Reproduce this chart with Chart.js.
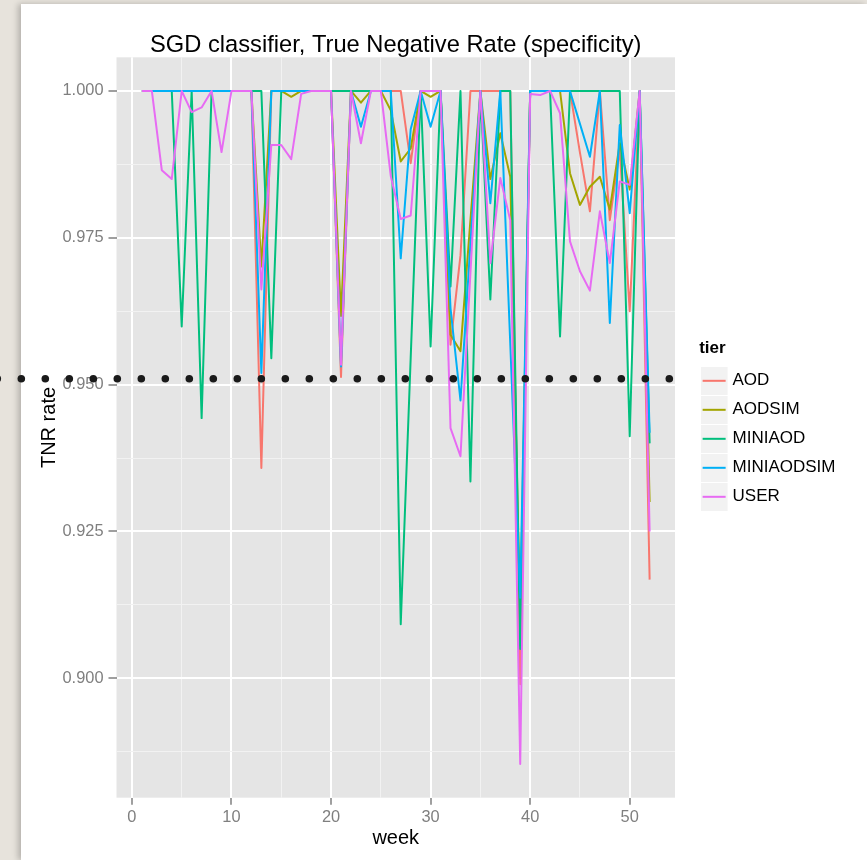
<!DOCTYPE html>
<html>
<head>
<meta charset="utf-8">
<script src="https://cdn.jsdelivr.net/npm/chart.js@4/dist/chart.umd.min.js"></script>
<style>
html,body{margin:0;padding:0;}
body{width:867px;height:860px;overflow:hidden;position:relative;background:#e7e3dc;}
#card{position:absolute;left:21px;top:4px;width:846px;height:856px;background:#ffffff;box-shadow:-3px 0 6px rgba(0,0,0,0.22);}
#c{position:absolute;left:0;top:0;}
</style>
</head>
<body>
<div id="card"></div>
<canvas id="c" width="867" height="860"></canvas>
<script>
// ---------- data ----------
const WEEKS = [1,2,3,4,5,6,7,8,9,10,11,12,13,14,15,16,17,18,19,20,21,22,23,24,25,26,
               27,28,29,30,31,32,33,34,35,36,37,38,39,40,41,42,43,44,45,46,47,48,49,50,51,52];
const TIERS = ['AOD','AODSIM','MINIAOD','MINIAODSIM','USER'];

const AOD = [1,1,1,1,1,1,1,1,1,1,1,1, 0.9358, 1,1,1,1,1,1,1, 0.9513, 1,1,1,1,1,1, 0.9877,
             1,1,1, 0.9568, 0.972, 1,1,1,1,1, 0.899, 1,1,1,1,1, 0.9895, 0.9795, 1, 0.978, 0.990, 0.9625, 1, 0.9168];
const AODSIM = [1,1,1,1,1,1,1,1,1,1,1,1, 0.9701, 1,1,0.999,1,1,1,1, 0.9617, 1, 0.998, 1,1, 0.9967, 0.988, 0.9902,
                1, 0.999, 1, 0.9585, 0.9557, 0.978, 1, 0.985, 0.9928, 0.9854, 0.91, 1,1,1,1,
                0.986, 0.9806, 0.9837, 0.9854, 0.9798, 0.9911, 0.9832, 1, 0.93];
const MINIAOD = [1,1,1,1, 0.9599, 1, 0.9443, 1,1,1,1,1,1, 0.9545, 1,1,1,1,1,1,1,1,1,1,1,1,
                 0.9092, 0.9546, 1, 0.9565, 1, 0.9667, 1, 0.9335, 1, 0.9645, 1, 1, 0.905,
                 1,1,1, 0.9582, 1,1,1,1,1,1, 0.9412, 1, 0.94];
const MINIAODSIM = [1,1,1,1,1,1,1,1,1,1,1,1, 0.952, 1,1,1,1,1,1,1, 0.9531, 1, 0.9939, 1,1,1, 0.9715, 0.9935,
                    1, 0.9939, 1, 0.963, 0.9473, 0.974, 1, 0.9809, 1, 0.957, 0.9137, 1,1,1,1,1,
                    0.9944, 0.9888, 1, 0.9605, 0.9942, 0.9792, 1, 0.9418];
const USER = [1, 1, 0.9865, 0.985, 1, 0.9964, 0.9972, 1, 0.9896, 1, 1, 1,
              0.9662, 0.9908, 0.9908, 0.9884, 0.9995, 1, 1, 1,
              0.9534, 1, 0.9911, 1, 1, 0.9855, 0.9782, 0.9788, 1, 1, 1,
              0.9426, 0.9378, 0.969, 1, 0.9707, 0.9852, 0.978, 0.8854, 0.9995, 0.9993, 1,
              0.9962, 0.9744, 0.9693, 0.966, 0.9795, 0.9707, 0.9846, 0.984, 1, 0.925];

const X_MAJOR_TICKS = [0, 10, 20, 30, 40, 50];
const X_MINOR_TICKS = [5, 15, 25, 35, 45];
const Y_MAJOR_TICKS = [0.900, 0.925, 0.950, 0.975, 1.000];
const Y_MINOR_TICKS = [0.8875, 0.9125, 0.9375, 0.9625, 0.9875];
const THRESHOLD = 0.951;

// ---------- styles ----------
const SERIES = [AOD, AODSIM, MINIAOD, MINIAODSIM, USER];
const COLORS = ['#F8766D', '#A3A500', '#00BF7D', '#00B0F6', '#E76BF3'];
const FONT = "'Liberation Sans', Arial, Helvetica, sans-serif";
Chart.defaults.font.family = FONT;

// ggplot-like 5% expansion of the data range
const allY = SERIES.flat();
const yLo = Math.min(...allY), yHi = Math.max(...allY);
const Y_MIN = yLo - 0.05 * (yHi - yLo), Y_MAX = yHi + 0.05 * (yHi - yLo);
const xLo = Math.min(...WEEKS), xHi = Math.max(...WEEKS);
const X_MIN = xLo - 0.05 * (xHi - xLo), X_MAX = xHi + 0.05 * (xHi - xLo);

const near = (a, list) => list.some(v => Math.abs(v - a) < 1e-9);

// legend key image: grey key box with a coloured line
function keyImage(color) {
  const c = document.createElement('canvas');
  c.width = 34; c.height = 28;
  const g = c.getContext('2d');
  g.fillStyle = '#f2f2f2';
  g.fillRect(0, 0, 27, 28);
  g.strokeStyle = color;
  g.lineWidth = 2;
  g.beginPath(); g.moveTo(2, 14); g.lineTo(25, 14); g.stroke();
  return c;
}

const panelBg = {
  id: 'panelBg',
  beforeDraw(chart) {
    const {ctx, chartArea: a} = chart;
    ctx.save();
    ctx.fillStyle = '#e5e5e5';
    ctx.fillRect(a.left, a.top, a.width, a.height);
    ctx.restore();
  }
};

// dotted threshold line across the panel, running out to the page edge
const thresholdDots = {
  id: 'thresholdDots',
  afterDraw(chart) {
    const {ctx, chartArea: a} = chart;
    const y = chart.scales.y.getPixelForValue(THRESHOLD);
    const step = 24, r = 3.8, x0 = a.left + 0.8;
    ctx.save();
    ctx.fillStyle = '#1a1a1a';
    const dot = x => { ctx.beginPath(); ctx.arc(x, y, r, 0, Math.PI * 2); ctx.fill(); };
    for (let x = x0; x <= a.right; x += step) dot(x);
    for (let x = x0 - step; x > -r; x -= step) dot(x);
    ctx.restore();
  }
};

const datasets = TIERS.map((name, i) => ({
  label: name,
  data: WEEKS.map((w, j) => ({x: w, y: SERIES[i][j]})),
  borderColor: COLORS[i],
  backgroundColor: COLORS[i],
  borderWidth: 2,
  pointRadius: 0,
  pointHoverRadius: 0,
  pointStyle: keyImage(COLORS[i]),
  tension: 0,
  borderJoinStyle: 'round',
  fill: false,
  order: TIERS.length - 1 - i
}));

new Chart(document.getElementById('c'), {
  type: 'line',
  data: { datasets },
  plugins: [panelBg, thresholdDots],
  options: {
    responsive: false,
    animation: false,
    devicePixelRatio: 1,
    layout: { padding: { left: 0, top: 0, bottom: 0, right: 28.05 } },
    plugins: {
      tooltip: { enabled: false },
      title: {
        display: true,
        text: 'SGD classifier, True Negative Rate (specificity)',
        color: '#000000',
        font: { size: 23.7, weight: 'normal', lineHeight: 1.0 },
        padding: { top: 33.15, bottom: 0.45 },
        fullSize: false
      },
      legend: {
        position: 'right',
        align: 'center',
        title: {
          display: true, text: 'tier', color: '#000000',
          font: { size: 17, weight: 'bold', lineHeight: 1.035 },
          padding: { top: -3, bottom: 3, left: 0, right: 0 }, position: 'start'
        },
        labels: {
          usePointStyle: true,
          pointStyleWidth: 12.9,
          padding: 12,
          color: '#000000',
          font: { size: 17 },
          sort: (a, b) => a.datasetIndex - b.datasetIndex
        }
      }
    },
    scales: {
      x: {
        type: 'linear',
        min: X_MIN, max: X_MAX,
        afterBuildTicks: s => { s.ticks = [...X_MAJOR_TICKS, ...X_MINOR_TICKS].sort((a, b) => a - b).map(v => ({value: v})); },
        afterFit: s => { s.height = 62.3; },
        border: { display: false },
        grid: {
          color: c => near(c.tick.value, X_MAJOR_TICKS) ? '#ffffff' : '#f2f2f2',
          lineWidth: c => near(c.tick.value, X_MAJOR_TICKS) ? 2 : 1,
          tickColor: c => near(c.tick.value, X_MAJOR_TICKS) ? '#7f7f7f' : 'rgba(0,0,0,0)',
          tickLength: 7,
          tickWidth: 1.5
        },
        ticks: {
          autoSkip: false, maxRotation: 0, padding: 3,
          color: '#7f7f7f', font: { size: 16.4 },
          callback: v => near(v, X_MAJOR_TICKS) ? String(v) : ''
        },
        title: {
          display: true, text: 'week', color: '#000000',
          font: { size: 20, lineHeight: 1.2 }, padding: { top: 0, bottom: 10 }
        }
      },
      y: {
        type: 'linear',
        min: Y_MIN, max: Y_MAX,
        afterBuildTicks: s => { s.ticks = [...Y_MAJOR_TICKS, ...Y_MINOR_TICKS].sort((a, b) => a - b).map(v => ({value: v})); },
        afterFit: s => { s.width = 116.5; },
        border: { display: false },
        grid: {
          color: c => near(c.tick.value, Y_MAJOR_TICKS) ? '#ffffff' : '#f2f2f2',
          lineWidth: c => near(c.tick.value, Y_MAJOR_TICKS) ? 2 : 1,
          tickColor: c => near(c.tick.value, Y_MAJOR_TICKS) ? '#7f7f7f' : 'rgba(0,0,0,0)',
          tickLength: 8,
          tickWidth: 1.5
        },
        ticks: {
          autoSkip: false, padding: 5,
          color: '#7f7f7f', font: { size: 16.4 },
          callback: v => near(v, Y_MAJOR_TICKS) ? v.toFixed(3) : ''
        },
        title: {
          display: true, text: 'TNR rate', color: '#000000',
          font: { size: 20, lineHeight: 1.2 }, padding: { top: 37.5, bottom: 0 }
        }
      },
      gap: {
        type: 'linear',
        position: 'right',
        display: true,
        afterFit: s => { s.width = 24.1; },
        border: { display: false },
        grid: { display: false, drawTicks: false },
        ticks: { display: false },
        title: { display: false }
      }
    }
  }
});
</script>
</body>
</html>
